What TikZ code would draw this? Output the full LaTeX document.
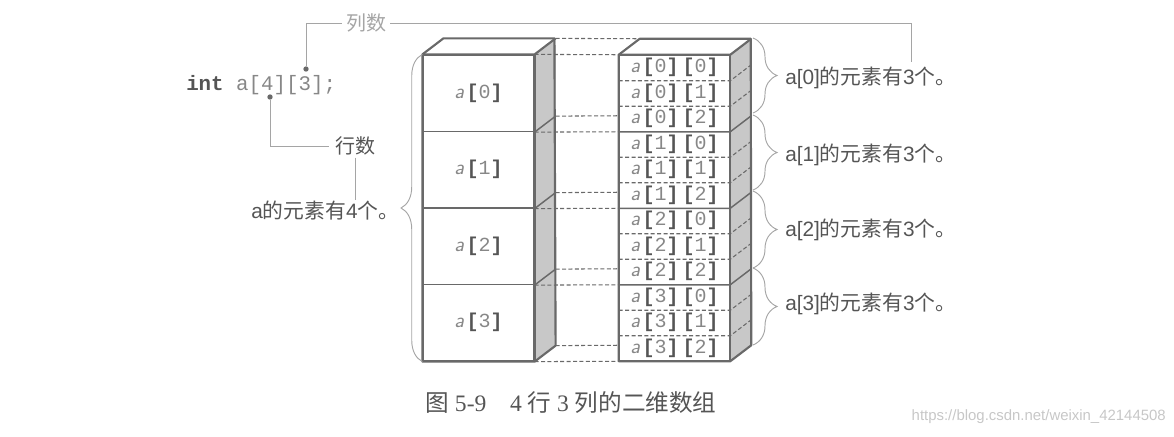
\documentclass[tikz,border=0pt]{standalone}
\usepackage{fontspec}
\usepackage{xcolor}
\usetikzlibrary{calc, decorations.pathreplacing}
\setmainfont{Liberation Sans}
\setmonofont{Liberation Mono}
\newfontfamily\cjk{Noto Sans CJK SC}
\newfontfamily\capserif{Liberation Serif}
\definecolor{inkgray}{RGB}{85,85,85}
\definecolor{linegray}{RGB}{105,105,105}
\definecolor{sidegray}{RGB}{200,200,200}
\definecolor{leadgray}{RGB}{165,165,165}
\definecolor{digitgray}{RGB}{135,135,135}
\newcommand{\idx}[1]{{\bfseries[}{\color{digitgray}#1}{\bfseries]}}
\newcommand{\elem}{{\sffamily\itshape\color{digitgray}\fontsize{16}{16}\selectfont a}\hspace{2pt}}

\begin{document}
\begin{tikzpicture}[
		x=0.75pt, y=-0.75pt,
		rowbox/.style={minimum width=83.25pt, minimum height=57.4pt, inner sep=0pt,
			font=\ttfamily\fontsize{15}{16}\selectfont, text=inkgray, draw=linegray, line width=0.9pt},
		cellbox/.style={minimum width=83.25pt, minimum height=19.12pt, inner sep=0pt,
			font=\ttfamily\fontsize{15}{16}\selectfont, text=inkgray},
		label/.style={inner sep=0pt, text=inkgray, font=\fontsize{15.6}{18}\selectfont},
		outline/.style={draw=linegray, line width=1.6pt, line join=round},
		divider/.style={draw=linegray, line width=1.1pt},
		dashline/.style={draw=linegray, line width=0.8pt, dash pattern=on 3pt off 1.8pt},
		leader/.style={draw=leadgray, line width=0.6pt},
		bracket/.style={draw=leadgray, line width=0.7pt, decorate},
		pin/.style={circle, fill=linegray, inner sep=0pt, minimum size=4pt}
	]
		\useasboundingbox (0,0) rectangle (1174,436);
		\node[label, font=\ttfamily\fontsize{15.6}{18}\selectfont, anchor=base west] (decl) at (186,90.5)
			{{\bfseries int} {\color{digitgray}a[4][3];}};
		\node[label, text=leadgray, font=\cjk\fontsize{15}{18}\selectfont] (colnum) at (366,23) {列数};
		\node[label, font=\cjk\fontsize{15}{18}\selectfont] (rownum) at (355,146) {行数};
		\node[label, anchor=base west] (rowcount) at (251,218) {a{\cjk 的元素有}4{\cjk 个。}};
		\node[pin] (colpin) at (306,69) {};
		\node[pin] (rowpin) at (270,97) {};
		\coordinate (colend) at (911,62);

		\foreach \r in {0,1,2,3} {
			\node[rowbox] (L\r) at (478.5,{93.25+76.5*\r}) {\elem\idx{\r}};
		}
		\foreach \r in {0,1,2,3} {
			\foreach \c in {0,1,2} {
				\node[cellbox] (R\r\c) at (674.5,{67.75+25.5*(3*\r+\c)}) {\elem\idx{\r}\hspace{3pt}\idx{\c}};
			}
		}

		\fill[sidegray] (L0.north east) -- ++(21,-16) -- ($(L3.south east)+(21,-16)$) -- (L3.south east) -- cycle;
		\fill[sidegray] (R00.north east) -- ++(21,-16) -- ($(R32.south east)+(21,-16)$) -- (R32.south east) -- cycle;

		\foreach \r in {0,1,2} {
			\draw[divider] (L\r.south east) -- ++(21,-16);
			\draw[divider] (R\r2.south west) -- (R\r2.south east) -- ++(21,-16);
		}
		\foreach \r in {0,1,2,3} {
			\foreach \c in {0,1} {
				\draw[dashline] (R\r\c.south west) -- (R\r\c.south east) -- ++(21,-16);
			}
		}
		\draw[outline] (L0.north west) -- ++(21,-16) -- ++(111,0) -- ($(L3.south east)+(21,-16)$) -- (L3.south east) -- (L3.south west) -- cycle;
		\draw[outline] (L0.north west) -- (L0.north east) -- ++(21,-16);
		\draw[outline] (L0.north east) -- (L3.south east);
		\draw[outline] (R00.north west) -- ++(21,-16) -- ++(111,0) -- ($(R32.south east)+(21,-16)$) -- (R32.south east) -- (R32.south west) -- cycle;
		\draw[outline] (R00.north west) -- (R00.north east) -- ++(21,-16);
		\draw[outline] (R00.north east) -- (R32.south east);

		\draw[dashline] ($(L0.north east)+(21,-16)$) -- ($(R00.north west)+(21,-16)$);
		\draw[dashline] (L0.north east) -- (R00.north west);
		\foreach \r in {0,1,2,3} {
			\draw[dashline] (L\r.south east) -- (R\r2.south west);
			\draw[dashline] ($(L\r.south east)+(21,-16)$) -- ($(R\r2.south west)+(0,-16)$);
		}

		\draw[leader] (colnum.west) ++(-4,0) -| (colpin);
		\draw[leader] (colnum.east) ++(4,0) -| (colend);
		\draw[leader] (rownum.west) ++(-6,0) -| (rowpin);
		\draw[leader] (rownum.south) ++(0,2) -- (rownum.south |- rowcount.north);

		\draw[bracket, decoration={brace, amplitude=16pt}] (L3.south west) -- (L0.north west);
		\foreach \r/\top/\bot in {0/38/113, 1/115/190, 2/191/268, 3/268/345} {
			\draw[bracket, decoration={brace, amplitude=18pt}] (753,\top) -- (753,\bot);
		}
		\foreach \r/\ypos in {0/84, 1/161, 2/236, 3/310} {
			\node[label, anchor=base west] (text\r) at (785,\ypos) {a[\r]{\cjk 的元素有}3{\cjk 个。}};
		}

		\node[inner sep=0pt, text=inkgray, font=\capserif\fontsize{17.7}{20}\selectfont] (caption) at (571,402.5)
			{{\cjk 图} 5-9\hspace{1em}4 {\cjk 行} 3 {\cjk 列的二维数组}};
		\node[inner sep=0pt, anchor=east, text=black!22, font=\fontsize{11.2}{14}\selectfont] (mark) at (1166,417)
			{https://blog.csdn.net/weixin\_42144508};
	\end{tikzpicture}
\end{document}
